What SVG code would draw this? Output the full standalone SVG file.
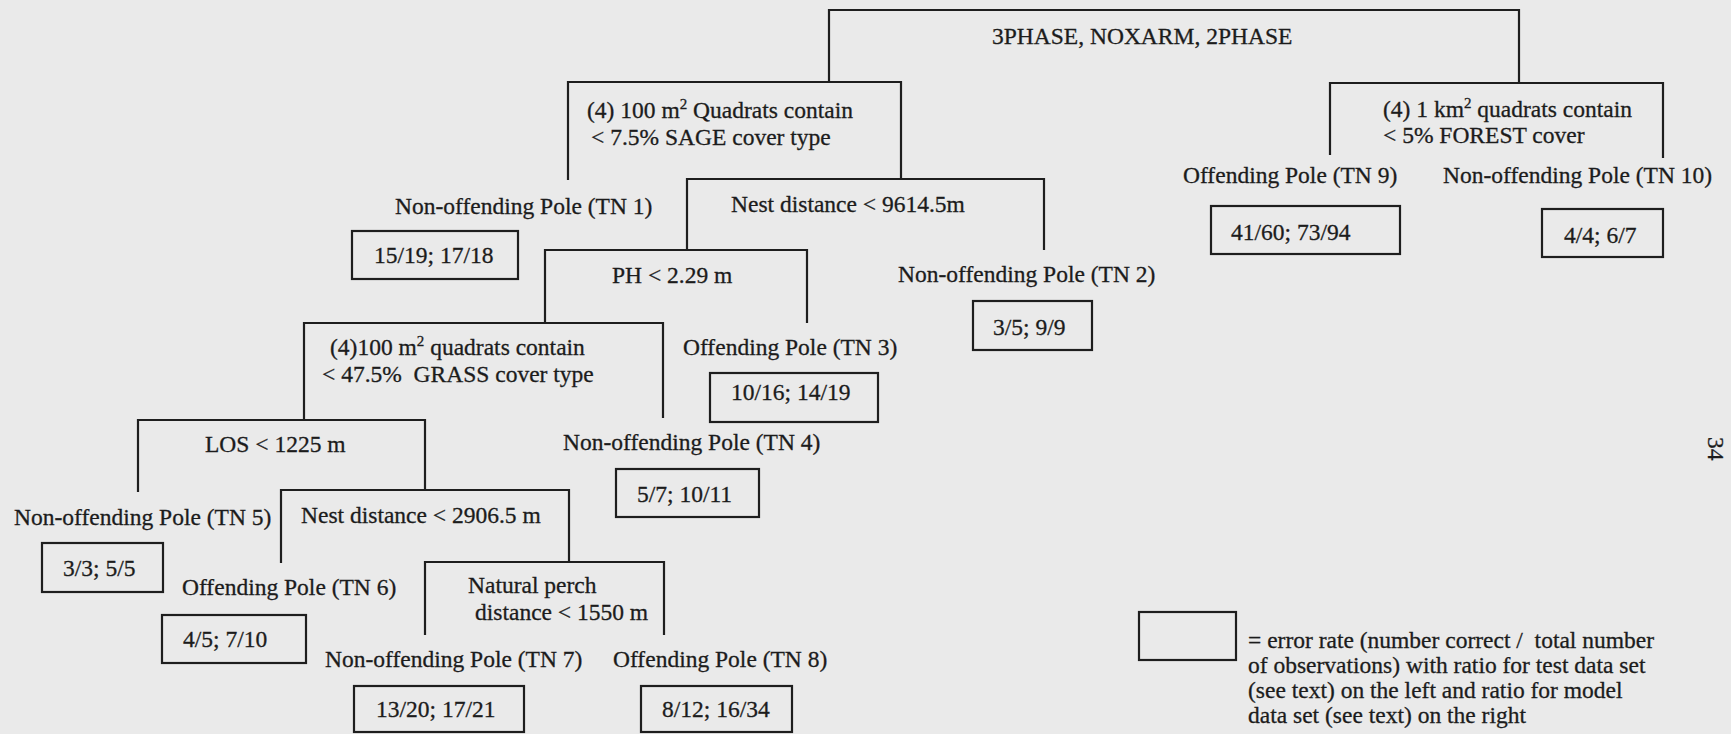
<svg xmlns="http://www.w3.org/2000/svg" width="1731" height="734" viewBox="0 0 1731 734">
<style>
text{font-family:"Liberation Serif","Times New Roman",serif;font-size:23.5px;fill:#1c1c1c;stroke:#1c1c1c;stroke-width:0.3}
.sup{font-size:15px}
.c{fill:none;stroke:#1e1e1e;stroke-width:2.2}
.box{fill:none;stroke:#1e1e1e;stroke-width:2.2}
</style>
<rect width="1731" height="734" fill="#eaeaea"/>
<g id="connectors" class="c">
<path class="c" d="M829,82 V10 H1519 V83"/>
<path class="c" d="M568,180 V82 H901 V179"/>
<path class="c" d="M1330,155 V83 H1663 V158"/>
<path class="c" d="M687,250 V179 H1044 V250"/>
<path class="c" d="M545,323 V250 H807 V323"/>
<path class="c" d="M304,420 V323 H663 V418"/>
<path class="c" d="M138,492 V420 H425 V490"/>
<path class="c" d="M281,563 V490 H569 V562"/>
<path class="c" d="M425,635 V562 H664 V635"/>
</g>
<g id="root"><text x="992" y="44">3PHASE, NOXARM, 2PHASE</text></g>
<g id="split-sage"><text x="587" y="118">(4) 100 m<tspan class="sup" dy="-9">2</tspan><tspan dy="9"> Quadrats contain</tspan></text><text x="591" y="145">&lt; 7.5% SAGE cover type</text></g>
<g id="split-forest"><text x="1383" y="117">(4) 1 km<tspan class="sup" dy="-9">2</tspan><tspan dy="9"> quadrats contain</tspan></text><text x="1383" y="143">&lt; 5% FOREST cover</text></g>
<g id="split-nest1"><text x="731" y="212">Nest distance &lt; 9614.5m</text></g>
<g id="split-ph"><text x="612" y="283">PH &lt; 2.29 m</text></g>
<g id="split-grass"><text x="330" y="355">(4)100 m<tspan class="sup" dy="-9">2</tspan><tspan dy="9"> quadrats contain</tspan></text><text x="322" y="382" xml:space="preserve">&lt; 47.5%  GRASS cover type</text></g>
<g id="split-los"><text x="205" y="452">LOS &lt; 1225 m</text></g>
<g id="split-nest2"><text x="301" y="523">Nest distance &lt; 2906.5 m</text></g>
<g id="split-perch"><text x="468" y="593">Natural perch</text><text x="475" y="620">distance &lt; 1550 m</text></g>
<g id="tn1"><text x="395" y="214">Non-offending Pole (TN 1)</text><rect class="box" x="352" y="231" width="166" height="48"/><text x="374" y="263">15/19; 17/18</text></g>
<g id="tn2"><text x="898" y="282">Non-offending Pole (TN 2)</text><rect class="box" x="973" y="301" width="119" height="49"/><text x="993" y="335">3/5; 9/9</text></g>
<g id="tn3"><text x="683" y="355">Offending Pole (TN 3)</text><rect class="box" x="710" y="373" width="168" height="49"/><text x="731" y="400">10/16; 14/19</text></g>
<g id="tn4"><text x="563" y="450">Non-offending Pole (TN 4)</text><rect class="box" x="616" y="469" width="143" height="48"/><text x="637" y="502">5/7; 10/11</text></g>
<g id="tn5"><text x="14" y="525">Non-offending Pole (TN 5)</text><rect class="box" x="42" y="543" width="121" height="49"/><text x="63" y="576">3/3; 5/5</text></g>
<g id="tn6"><text x="182" y="595">Offending Pole (TN 6)</text><rect class="box" x="162" y="615" width="144" height="48"/><text x="183" y="647">4/5; 7/10</text></g>
<g id="tn7"><text x="325" y="667">Non-offending Pole (TN 7)</text><rect class="box" x="354" y="686" width="170" height="46"/><text x="376" y="717">13/20; 17/21</text></g>
<g id="tn8"><text x="613" y="667">Offending Pole (TN 8)</text><rect class="box" x="641" y="686" width="151" height="46"/><text x="662" y="717">8/12; 16/34</text></g>
<g id="tn9"><text x="1183" y="183">Offending Pole (TN 9)</text><rect class="box" x="1211" y="206" width="189" height="48"/><text x="1231" y="240">41/60; 73/94</text></g>
<g id="tn10"><text x="1443" y="183">Non-offending Pole (TN 10)</text><rect class="box" x="1542" y="209" width="121" height="48"/><text x="1564" y="243">4/4; 6/7</text></g>
<g id="legend"><rect class="box" x="1139" y="612" width="97" height="48"/><text x="1248" y="648" xml:space="preserve">= error rate (number correct /  total number</text><text x="1248" y="673">of observations) with ratio for test data set</text><text x="1248" y="698">(see text) on the left and ratio for model</text><text x="1248" y="723">data set (see text) on the right</text></g>
<g id="page-number"><text x="1708" y="437" font-size="28" transform="rotate(90 1708 437)">34</text></g>
</svg>
